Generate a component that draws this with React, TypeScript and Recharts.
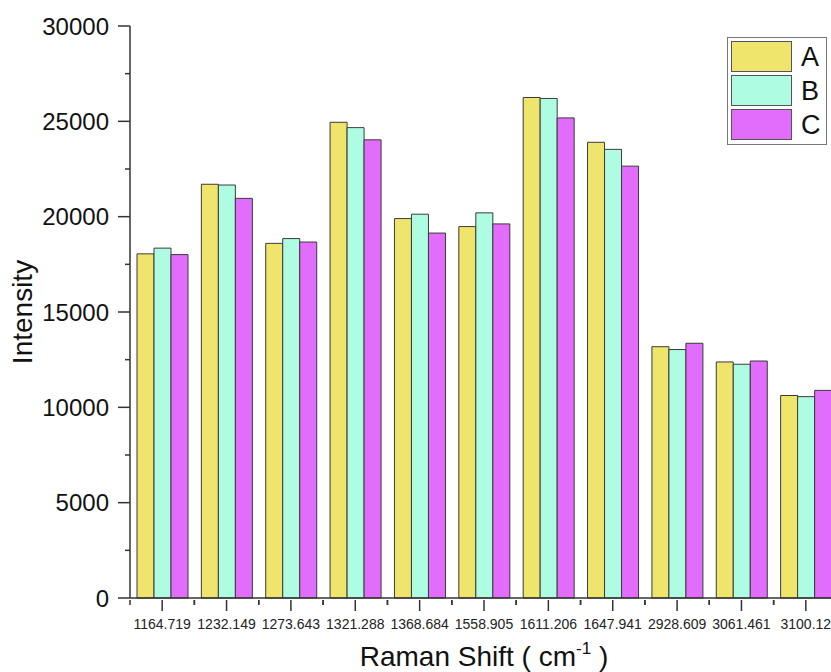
import { BarChart, Bar, XAxis, YAxis } from 'recharts'

const shifts = [
  '1164.719', '1232.149', '1273.643', '1321.288', '1368.684', '1558.905',
  '1611.206', '1647.941', '2928.609', '3061.461', '3100.12',
]
const seriesA = [18050, 21700, 18600, 24950, 19900, 19480, 26250, 23900, 13180, 12380, 10620]
const seriesB = [18350, 21660, 18850, 24670, 20130, 20200, 26200, 23530, 13030, 12260, 10560]
const seriesC = [18010, 20960, 18670, 24030, 19140, 19620, 25180, 22650, 13360, 12430, 10890]
const yTicks = [0, 2500, 5000, 7500, 10000, 12500, 15000, 17500, 20000, 22500, 25000, 27500, 30000]

const SERIES = [
  { key: 'A', color: '#EFE56D' },
  { key: 'B', color: '#AEFDE3' },
  { key: 'C', color: '#E26CFC' },
]

const FONT = "Arial, 'Liberation Sans', sans-serif"
const AXIS = '#333333'

const data = shifts.map((s, i) => ({ shift: s, A: seriesA[i], B: seriesB[i], C: seriesC[i] }))

const YTick = ({ x, y, payload }: any) => {
  const major = payload.value % 5000 === 0
  const len = major ? 12 : 5
  return (
    <g>
      <line x1={x - len} x2={x} y1={y} y2={y} stroke={AXIS} strokeWidth={1.5} />
      {major && (
        <text x={x - len - 9} y={y} dy={8.5} textAnchor="end" fontSize={24} fontFamily={FONT} fill="#111">
          {payload.value}
        </text>
      )}
    </g>
  )
}

const XTick = ({ x, y, payload }: any) => {
  const half = payload.offset || 32
  return (
    <g>
      <line x1={x} x2={x} y1={y} y2={y + 11} stroke={AXIS} strokeWidth={1.5} />
      <line x1={x - half} x2={x - half} y1={y} y2={y + 5} stroke={AXIS} strokeWidth={1.5} />
      <line x1={x + half} x2={x + half} y1={y} y2={y + 5} stroke={AXIS} strokeWidth={1.5} />
      <text x={x} y={y + 29} textAnchor="middle" fontSize={14} fontFamily={FONT} fill="#222">
        {payload.value}
      </text>
    </g>
  )
}

const XTitle = ({ viewBox }: any) => (
  <text x={viewBox.x + viewBox.width / 2} y={viewBox.y + 68} textAnchor="middle" fontSize={28} fontFamily={FONT} fill="#111">
    Raman Shift ( cm
    <tspan fontSize={17} dy={-12}>-1</tspan>
    <tspan dy={12}> )</tspan>
  </text>
)

const YTitle = ({ viewBox }: any) => {
  const cy = viewBox.y + viewBox.height / 2
  return (
    <text x={22} y={cy} transform={`rotate(-90 22 ${cy})`} dy={10} textAnchor="middle" fontSize={28} fontFamily={FONT} fill="#111">
      Intensity
    </text>
  )
}

const LegendBox = () => (
  <div
    style={{
      position: 'absolute',
      left: 727,
      top: 37,
      width: 95,
      border: '1.5px solid #777',
      background: '#fff',
      padding: '3px 0 1px 3px',
      fontFamily: FONT,
    }}
  >
    {SERIES.map(s => (
      <div key={s.key} style={{ display: 'flex', alignItems: 'center', height: 31, marginBottom: 3 }}>
        <div style={{ width: 59, height: 29, background: s.color, border: '1.5px solid #555' }} />
        <span style={{ fontSize: 27, marginLeft: 9, color: '#111', lineHeight: '30px' }}>{s.key}</span>
      </div>
    ))}
  </div>
)

export default function App() {
  return (
    <div style={{ position: 'fixed', left: 0, top: 0, width: 831, height: 672, overflow: 'hidden', background: '#fff' }}>
      <BarChart
        width={860}
        height={672}
        data={data}
        margin={{ top: 26, right: 22, bottom: 0, left: 0 }}
        barGap={0}
        barCategoryGap={7}
      >
        <XAxis
          dataKey="shift"
          height={74}
          interval={0}
          tickSize={0}
          tickLine={false}
          axisLine={{ stroke: AXIS, strokeWidth: 1.5 }}
          tick={<XTick />}
          label={{ content: <XTitle /> }}
        />
        <YAxis
          width={130}
          domain={[0, 30000]}
          ticks={yTicks}
          interval={0}
          tickSize={0}
          tickMargin={0}
          tickLine={false}
          axisLine={{ stroke: AXIS, strokeWidth: 1.5 }}
          tick={<YTick />}
          label={{ content: <YTitle /> }}
        />
        {SERIES.map(s => (
          <Bar key={s.key} dataKey={s.key} fill={s.color} stroke="#3a3a3a" strokeWidth={1} isAnimationActive={false} />
        ))}
      </BarChart>
      <LegendBox />
    </div>
  )
}
